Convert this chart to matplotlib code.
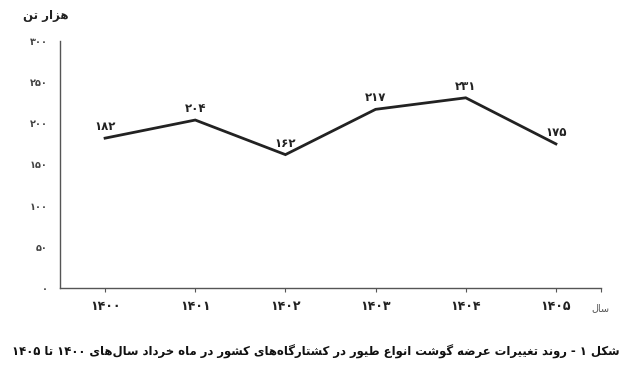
import matplotlib
matplotlib.use("Agg")
import matplotlib.pyplot as plt
from matplotlib.ticker import FixedLocator

# ---------------- data ----------------
years = ["1400", "1401", "1402", "1403", "1404", "1405"]
supply = [182, 204, 162, 217, 231, 175]
y_ticks = [0, 50, 100, 150, 200, 250, 300]
y_unit = "هزار تن"
x_name = "سال"
title = "شکل ۱ - روند تغییرات عرضه گوشت انواع طیور در کشتارگاه‌های کشور در ماه خرداد سال‌های ۱۴۰۰ تا ۱۴۰۵"

# ---------------- minimal Arabic/Persian shaping ----------------
DUAL = {
    'ب': (0xFE8F, 0xFE90, 0xFE91, 0xFE92), 'ت': (0xFE95, 0xFE96, 0xFE97, 0xFE98),
    'ث': (0xFE99, 0xFE9A, 0xFE9B, 0xFE9C), 'ج': (0xFE9D, 0xFE9E, 0xFE9F, 0xFEA0),
    'ح': (0xFEA1, 0xFEA2, 0xFEA3, 0xFEA4), 'خ': (0xFEA5, 0xFEA6, 0xFEA7, 0xFEA8),
    'س': (0xFEB1, 0xFEB2, 0xFEB3, 0xFEB4), 'ش': (0xFEB5, 0xFEB6, 0xFEB7, 0xFEB8),
    'ص': (0xFEB9, 0xFEBA, 0xFEBB, 0xFEBC), 'ض': (0xFEBD, 0xFEBE, 0xFEBF, 0xFEC0),
    'ط': (0xFEC1, 0xFEC2, 0xFEC3, 0xFEC4), 'ظ': (0xFEC5, 0xFEC6, 0xFEC7, 0xFEC8),
    'ع': (0xFEC9, 0xFECA, 0xFECB, 0xFECC), 'غ': (0xFECD, 0xFECE, 0xFECF, 0xFED0),
    'ف': (0xFED1, 0xFED2, 0xFED3, 0xFED4), 'ق': (0xFED5, 0xFED6, 0xFED7, 0xFED8),
    'ك': (0xFED9, 0xFEDA, 0xFEDB, 0xFEDC), 'ل': (0xFEDD, 0xFEDE, 0xFEDF, 0xFEE0),
    'م': (0xFEE1, 0xFEE2, 0xFEE3, 0xFEE4), 'ن': (0xFEE5, 0xFEE6, 0xFEE7, 0xFEE8),
    'ه': (0xFEE9, 0xFEEA, 0xFEEB, 0xFEEC), 'ي': (0xFEF1, 0xFEF2, 0xFEF3, 0xFEF4),
    'ک': (0xFB8E, 0xFB8F, 0xFB90, 0xFB91), 'گ': (0xFB92, 0xFB93, 0xFB94, 0xFB95),
    'ی': (0xFBFC, 0xFBFD, 0xFBFE, 0xFBFF), 'پ': (0xFB56, 0xFB57, 0xFB58, 0xFB59),
    'چ': (0xFB7A, 0xFB7B, 0xFB7C, 0xFB7D),
}
RIGHT = {
    'ا': (0xFE8D, 0xFE8E), 'د': (0xFEA9, 0xFEAA), 'ذ': (0xFEAB, 0xFEAC),
    'ر': (0xFEAD, 0xFEAE), 'ز': (0xFEAF, 0xFEB0), 'و': (0xFEED, 0xFEEE),
    'ژ': (0xFB8A, 0xFB8B), 'آ': (0xFE81, 0xFE82),
}
DIGITS = set('0123456789۰۱۲۳۴۵۶۷۸۹')


def _joins(c):
    return c in DUAL or c in RIGHT


def shape_rtl(text):
    out = []
    n = len(text)
    for i, c in enumerate(text):
        prev = text[i - 1] if i > 0 else ''
        nxt = text[i + 1] if i < n - 1 else ''
        pj = prev in DUAL
        nj = _joins(nxt)
        if c in DUAL:
            iso, fin, ini, med = DUAL[c]
            if pj and nj:
                out.append(chr(med))
            elif pj:
                out.append(chr(fin))
            elif nj:
                out.append(chr(ini))
            else:
                out.append(chr(iso))
        elif c in RIGHT:
            iso, fin = RIGHT[c]
            out.append(chr(fin) if pj else chr(iso))
        elif c == '\u200c':
            continue
        else:
            out.append(c)
    s = ''.join(out)[::-1]
    # restore left-to-right order of digit runs
    res, run = [], []
    for c in s:
        if c in DIGITS:
            run.append(c)
        else:
            if run:
                res.extend(run[::-1]); run = []
            res.append(c)
    if run:
        res.extend(run[::-1])
    return ''.join(res)


def fa_num(v):
    return str(v).translate(str.maketrans('0123456789', '۰۱۲۳۴۵۶۷۸۹'))


FONT = ['DejaVu Sans']
plt.rcParams['font.family'] = FONT

fig = plt.figure(figsize=(6.33, 3.75), dpi=100)
ax = fig.add_axes([60 / 633, 1 - 288 / 375, (601 - 60) / 633, (288 - 41) / 375])

x = list(range(len(years)))
ax.plot(x, supply, color='#222222', lw=2.0, solid_joinstyle='miter')
for xi, v in zip(x, supply):
    ax.annotate(fa_num(v), (xi, v), xytext=(0, 3.5), textcoords='offset points',
                ha='center', va='bottom', fontsize=8.5, fontweight='bold', color='#222222')

ax.set_xlim(-0.5, 5.5)
ax.set_ylim(0, 300)
for s in ['top', 'right']:
    ax.spines[s].set_visible(False)
for s in ['left', 'bottom']:
    ax.spines[s].set_color('#555555')
    ax.spines[s].set_linewidth(1.0)

ax.set_yticks(y_ticks)
ax.set_yticklabels([fa_num(t) for t in y_ticks], fontsize=7, fontweight='bold', color='#444444')
ax.tick_params(axis='y', length=0, pad=9)

ax.set_xticks(x)
ax.set_xticklabels([fa_num(y) for y in years], fontsize=9, fontweight='bold', color='#222222')
ax.xaxis.set_minor_locator(FixedLocator([5.5]))
ax.tick_params(axis='x', which='both', direction='out', length=3, width=0.8, color='#555555', pad=6)

fig.text(46 / 633, 1 - 16 / 375, shape_rtl(y_unit), ha='center', va='center',
         fontsize=8.5, fontweight='bold', color='#222222')
fig.text(600 / 633, 1 - 308 / 375, shape_rtl(x_name), ha='center', va='center',
         fontsize=7, color='#555555')
t = fig.text(316 / 633, 1 - 352 / 375, shape_rtl(title), ha='center', va='center',
             fontsize=10.5, fontweight='bold', color='#111111')
# fit title to the reference's width (~608 px)
r = fig.canvas.get_renderer()
w = t.get_window_extent(renderer=r).width
t.set_fontsize(10.5 * 608 / w)

fig.savefig('out.png', dpi=100, facecolor='white')
